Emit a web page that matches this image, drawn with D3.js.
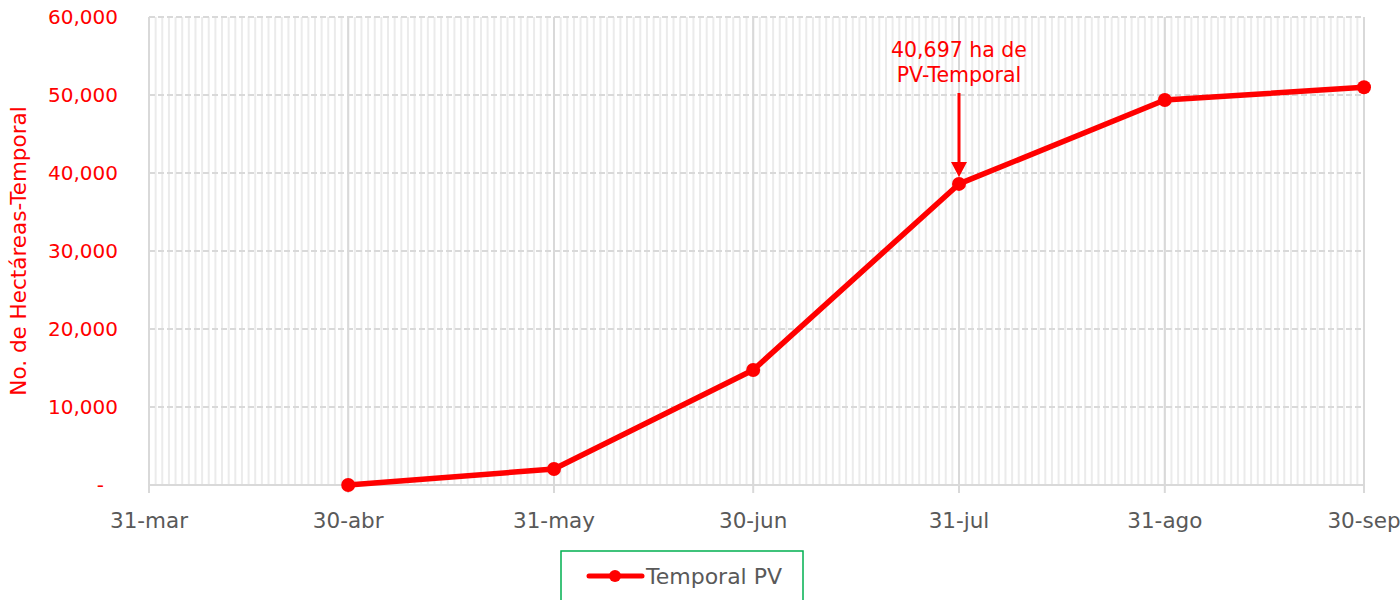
<!DOCTYPE html>
<html><head><meta charset="utf-8">
<script src="https://cdn.jsdelivr.net/npm/d3@7"></script>
<style>
body{margin:0;background:#fff;}
text{font-family:"DejaVu Sans",sans-serif;}
</style></head>
<body><svg id="c" width="1400" height="600"></svg>
<script>
const dates = ["2020-04-30","2020-05-31","2020-06-30","2020-07-31","2020-08-31","2020-09-30"];
const values = [0, 2050, 14750, 38600, 49350, 51000];
const tickDates = ["2020-03-31","2020-04-30","2020-05-31","2020-06-30","2020-07-31","2020-08-31","2020-09-30"];
const tickLabels = ["31-mar","30-abr","31-may","30-jun","31-jul","31-ago","30-sep"];
const yTicks = [0,10000,20000,30000,40000,50000,60000];
const seriesName = "Temporal PV";
const annotationLines = ["40,697 ha de","PV-Temporal"];
const annotationDate = "2020-07-31";
const yLabel = "No. de Hectáreas-Temporal";

const parse = d3.timeParse("%Y-%m-%d");
const svg = d3.select("#c");
const L=149, R=1364, T=17, B=485;
const x = d3.scaleTime().domain([parse(tickDates[0]), parse(tickDates[tickDates.length-1])]).range([L,R]);
const y = d3.scaleLinear().domain([0,60000]).range([B,T]);

// minor daily gridlines
const days = d3.timeDay.range(parse(tickDates[0]), d3.timeDay.offset(parse(tickDates[tickDates.length-1]),1));
svg.append("g").selectAll("line").data(days).join("line")
  .attr("x1",d=>x(d)).attr("x2",d=>x(d)).attr("y1",T).attr("y2",B)
  .attr("stroke","#ebebeb").attr("stroke-width",2);
// major vertical gridlines
svg.append("g").selectAll("line").data(tickDates.map(parse)).join("line")
  .attr("x1",d=>x(d)).attr("x2",d=>x(d)).attr("y1",T).attr("y2",B+8)
  .attr("stroke","#d9d9d9").attr("stroke-width",2);
// horizontal gridlines
svg.append("g").selectAll("line").data(yTicks.filter(v=>v>0)).join("line")
  .attr("x1",L).attr("x2",R).attr("y1",d=>y(d)).attr("y2",d=>y(d))
  .attr("stroke","#d9d9d9").attr("stroke-width",2).attr("stroke-dasharray","6,3");
// x axis line
svg.append("line").attr("x1",L).attr("x2",R).attr("y1",B).attr("y2",B).attr("stroke","#d9d9d9").attr("stroke-width",2);

// y tick labels
svg.append("g").selectAll("text").data(yTicks).join("text")
  .attr("x",d=>d===0?104:118).attr("y",d=>y(d)+7).attr("text-anchor","end")
  .attr("fill","#ff0000").attr("font-size",20)
  .text(d=>d===0?"-":d3.format(",")(d));
// x tick labels
svg.append("g").selectAll("text").data(tickDates).join("text")
  .attr("x",d=>x(parse(d))).attr("y",528).attr("text-anchor","middle")
  .attr("fill","#595959").attr("font-size",21.5)
  .text((d,i)=>tickLabels[i]);
// y label
svg.append("text").attr("transform","translate(26,251) rotate(-90)")
  .attr("text-anchor","middle").attr("fill","#ff0000").attr("font-size",21.5).text(yLabel);

// line
const data = dates.map((d,i)=>({d:parse(d),v:values[i]}));
svg.append("path").datum(data).attr("fill","none").attr("stroke","#ff0000").attr("stroke-width",5.5)
  .attr("stroke-linejoin","round")
  .attr("d",d3.line().x(d=>x(d.d)).y(d=>y(d.v)));
svg.append("g").selectAll("circle").data(data).join("circle")
  .attr("cx",d=>x(d.d)).attr("cy",d=>y(d.v)).attr("r",7).attr("fill","#ff0000");

// annotation
const ax = x(parse(annotationDate));
svg.append("g").selectAll("text").data(annotationLines).join("text")
  .attr("x",ax).attr("y",(d,i)=>57+i*25).attr("text-anchor","middle")
  .attr("fill","#ff0000").attr("font-size",20.5).text(d=>d);
svg.append("line").attr("x1",ax).attr("x2",ax).attr("y1",93).attr("y2",163).attr("stroke","#ff0000").attr("stroke-width",3);
svg.append("path").attr("d",`M${ax-8},162 L${ax+8},162 L${ax},177 Z`).attr("fill","#ff0000");

// legend
const lg = svg.append("g");
lg.append("rect").attr("x",561).attr("y",551).attr("width",242).attr("height",60).attr("fill","#fff").attr("stroke","#00b050").attr("stroke-width",1.5);
lg.append("line").attr("x1",589).attr("x2",642).attr("y1",576).attr("y2",576).attr("stroke","#ff0000").attr("stroke-width",5).attr("stroke-linecap","round");
lg.append("circle").attr("cx",615).attr("cy",576).attr("r",6).attr("fill","#ff0000");
lg.append("text").attr("x",646).attr("y",584).attr("fill","#595959").attr("font-size",22).text(seriesName);
</script></body></html>
